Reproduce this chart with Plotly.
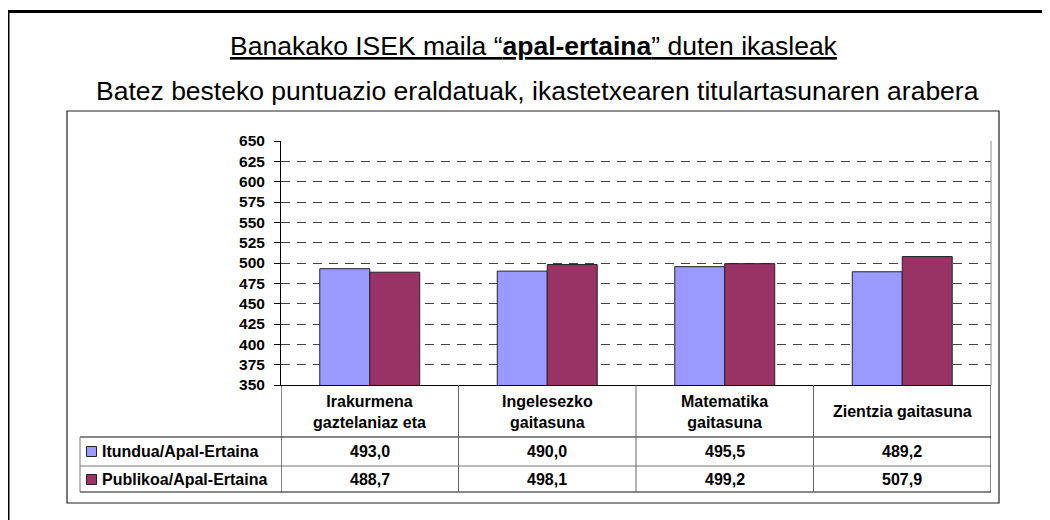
import plotly.graph_objects as go

# ---------------- data ----------------
categories = ["Irakurmena<br>gaztelaniaz eta", "Ingelesezko<br>gaitasuna",
              "Matematika<br>gaitasuna", "Zientzia gaitasuna"]
series_names = ["Itundua/Apal-Ertaina", "Publikoa/Apal-Ertaina"]
itundua = [493.0, 490.0, 495.5, 489.2]
publikoa = [488.7, 498.1, 499.2, 507.9]
y_ticks = [350, 375, 400, 425, 450, 475, 500, 525, 550, 575, 600, 625, 650]
title_text = "<u>Banakako ISEK maila \u201c<b>apal-ertaina</b>\u201d duten ikasleak</u>"
subtitle_text = "Batez besteko puntuazio eraldatuak, ikastetxearen titulartasunaren arabera"
series_values = [itundua, publikoa]
series_colors = ["#9999FF", "#993366"]

# ---------------- geometry helpers ----------------
# the page body adds an 8px margin around the figure; screen px = figure px + OFF
OFF = 8
W, H = 1050, 520
PLOT_LEFT, PLOT_RIGHT, PLOT_TOP, PLOT_BOTTOM = 281, 991, 141, 385  # screen px
L = PLOT_LEFT - OFF
T = PLOT_TOP - OFF
R = W - (PLOT_RIGHT - OFF)
B = H - (PLOT_BOTTOM - OFF)
PW, PH = PLOT_RIGHT - PLOT_LEFT, PLOT_BOTTOM - PLOT_TOP
FONT = "Liberation Sans, Arial, Helvetica, sans-serif"


def px2x(px):
    return (px - PLOT_LEFT) / PW


def py2y(py):
    return (PLOT_BOTTOM - py) / PH


def fmt(v):
    return f"{v:.1f}".replace(".", ",")


fig = go.Figure()
for name, vals, col in zip(series_names, series_values, series_colors):
    fig.add_trace(go.Bar(
        x=categories, y=vals, name=name,
        marker=dict(color=col, line=dict(color="#222222", width=1)),
        hoverinfo="x+y+name",
    ))

shapes = []
annotations = []

# outer frame (only top/left visible)
shapes.append(dict(type="rect", xref="paper", yref="paper",
                   x0=px2x(8), x1=px2x(1070), y0=py2y(540), y1=py2y(11.5),
                   line=dict(color="black", width=3), layer="below"))
# inner chart box
shapes.append(dict(type="rect", xref="paper", yref="paper",
                   x0=px2x(67), x1=px2x(999), y0=py2y(503), y1=py2y(111),
                   line=dict(color="#222222", width=1.2), layer="below"))
# plot area right border
shapes.append(dict(type="line", xref="paper", yref="paper",
                   x0=1, x1=1, y0=0, y1=1, line=dict(color="#888888", width=1)))

# table horizontal lines
for ypx, col in [(437, "#111111"), (466, "#777777"), (492, "#111111")]:
    shapes.append(dict(type="line", xref="paper", yref="paper",
                       x0=px2x(80), x1=1, y0=py2y(ypx), y1=py2y(ypx),
                       line=dict(color=col, width=1)))
# legend column left border
shapes.append(dict(type="line", xref="paper", yref="paper",
                   x0=px2x(80), x1=px2x(80), y0=py2y(437), y1=py2y(492),
                   line=dict(color="#777777", width=1)))
# table vertical lines at category boundaries
for i in range(len(categories) + 1):
    shapes.append(dict(type="line", xref="x", yref="paper",
                       x0=i - 0.5, x1=i - 0.5, y0=py2y(385), y1=py2y(492),
                       line=dict(color="#111111" if i in (0, 4) else "#666666", width=1)))

# legend rows inside table
row_centers = [451.5, 479.5]
for name, col, yc in zip(series_names, series_colors, row_centers):
    shapes.append(dict(type="rect", xref="paper", yref="paper",
                       x0=px2x(86.5), x1=px2x(96.5), y0=py2y(yc + 5), y1=py2y(yc - 5),
                       fillcolor=col, line=dict(color="#222222", width=1)))
    annotations.append(dict(xref="paper", yref="paper", x=px2x(100), y=py2y(yc),
                            xanchor="left", yanchor="middle", showarrow=False,
                            text=f"<b>{name}</b>", font=dict(size=16, family=FONT, color="black")))

# header cells and value cells
for i, cat in enumerate(categories):
    annotations.append(dict(xref="x", yref="paper", x=cat, y=py2y(411.5),
                            xanchor="center", yanchor="middle", showarrow=False,
                            text=f"<b>{cat}</b>", font=dict(size=16, family=FONT, color="black")))
    for vals, yc in zip(series_values, row_centers):
        annotations.append(dict(xref="x", yref="paper", x=cat, y=py2y(yc),
                                xanchor="center", yanchor="middle", showarrow=False,
                                text=f"<b>{fmt(vals[i])}</b>",
                                font=dict(size=16, family=FONT, color="black")))

# titles
annotations.append(dict(xref="paper", yref="paper", x=px2x(534), y=py2y(46),
                        xanchor="center", yanchor="middle", showarrow=False,
                        text=title_text, font=dict(size=26.5, family=FONT, color="black")))
annotations.append(dict(xref="paper", yref="paper", x=px2x(537), y=py2y(91),
                        xanchor="center", yanchor="middle", showarrow=False,
                        text=subtitle_text, font=dict(size=26.5, family=FONT, color="black")))

fig.update_layout(
    width=W, height=H,
    margin=dict(l=L, r=R, t=T, b=B, pad=0),
    barmode="group", bargap=0.437, bargroupgap=0,
    showlegend=False,
    plot_bgcolor="white", paper_bgcolor="white",
    font=dict(family=FONT, color="black"),
    shapes=shapes, annotations=annotations,
    xaxis=dict(range=[-0.5, 3.5], showticklabels=False, ticks="",
               showline=True, linecolor="black", linewidth=1, showgrid=False,
               fixedrange=True),
    yaxis=dict(range=[350, 650], tickvals=y_ticks, ticktext=[str(t) for t in y_ticks],
               showline=True, linecolor="black", linewidth=1,
               ticks="outside", ticklen=6, tickcolor="black", tickwidth=1,
               ticklabelstandoff=6,
               showgrid=True, gridcolor="#444444", gridwidth=1, griddash="9px,7px",
               zeroline=False,
               tickfont=dict(size=15.5, family=FONT, color="black", weight="bold"),
               fixedrange=True),
)

fig.write_html("out.html")
